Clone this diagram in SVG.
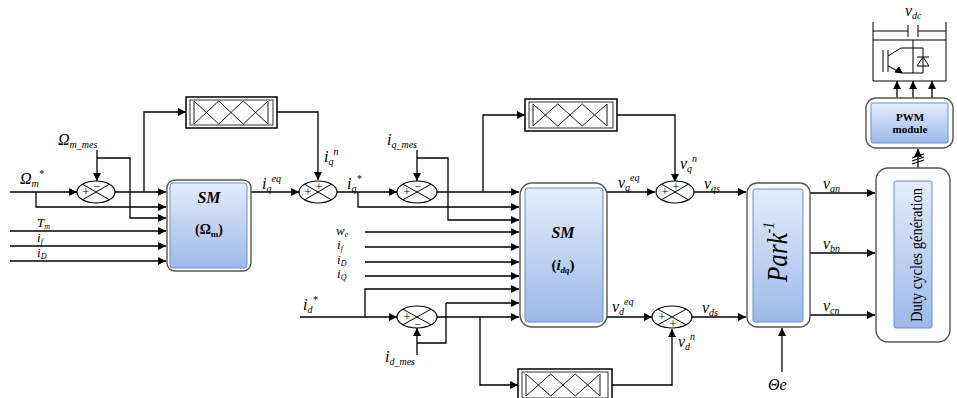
<svg xmlns="http://www.w3.org/2000/svg" width="957" height="398" viewBox="0 0 957 398">
<defs>
<linearGradient id="bl" x1="0" y1="0" x2="0" y2="1">
<stop offset="0" stop-color="#e4edfb"/>
<stop offset="1" stop-color="#9cb9e8"/>
</linearGradient>
<marker id="ah" viewBox="0 0 10 10" refX="10" refY="5" markerWidth="11" markerHeight="8" orient="auto" markerUnits="userSpaceOnUse">
<path d="M0,0 L10,5 L0,10 z" fill="#000"/>
</marker>
</defs>
<style>
.c{fill:none;stroke:#000;stroke-width:1.3;marker-end:url(#ah)}
.w{fill:none;stroke:#000;stroke-width:1.3}
.o{fill:#fff;stroke:#555;stroke-width:1.4}
.i{fill:url(#bl);stroke:#6d8fcb;stroke-width:1}
.fz{fill:#fff;stroke:#000;stroke-width:1.5}
.fi{fill:none;stroke:#000;stroke-width:0.8}
.mf{fill:none;stroke:#000;stroke-width:0.9}
.sum{fill:#fff;stroke:#000;stroke-width:1.2}
.x{stroke:#000;stroke-width:1}
.l{font-family:"Liberation Serif",serif;font-style:italic;font-size:16px;fill:#000}
.k{font-family:"Liberation Serif",serif;font-style:italic;font-size:13px;fill:#000}
.s{font-size:10px}
.t{font-size:8px}
.g{font-family:"Liberation Serif",serif;font-size:12px;fill:#000;text-anchor:middle}
.b{font-family:"Liberation Serif",serif;font-weight:bold;fill:#000;text-anchor:middle}
</style>

<g id="connectors">
<path class="c" d="M10,192 H77"/>
<path class="c" d="M36,192 V207 H166"/>
<path class="c" d="M97,150 V181"/>
<path class="c" d="M97,158 H130 V218 H166"/>
<path class="c" d="M115,192 H166"/>
<path class="c" d="M144,192 V112 H186"/>
<path class="c" d="M10,231 H166"/>
<path class="c" d="M10,246 H166"/>
<path class="c" d="M10,261 H166"/>
<path class="c" d="M251,192 H299"/>
<path class="c" d="M277,112 H318 V180"/>
<path class="c" d="M337,192 H397"/>
<path class="c" d="M358,192 V207 H519"/>
<path class="c" d="M417,150 V181"/>
<path class="c" d="M417,158 H448 V220 H519"/>
<path class="c" d="M437,192 H519"/>
<path class="c" d="M483,192 V115 H525"/>
<path class="c" d="M365,232 H519"/>
<path class="c" d="M365,247 H519"/>
<path class="c" d="M365,262 H519"/>
<path class="c" d="M365,276 H519"/>
<path class="c" d="M300,317 H397"/>
<path class="c" d="M365,317 V289 H519"/>
<path class="c" d="M417,355 V328"/>
<path class="w" d="M417,343 H446 V303"/>
<path class="c" d="M446,303 H519"/>
<path class="c" d="M437,317 H519"/>
<path class="c" d="M480,317 V385 H518"/>
<path class="c" d="M607,192 H655"/>
<path class="c" d="M617,115 H675 V182"/>
<path class="c" d="M607,317 H652"/>
<path class="c" d="M612,385 H672 V329"/>
<path class="c" d="M694,192 H746"/>
<path class="c" d="M692,317 H746"/>
<path class="c" d="M782,372 V328"/>
<path class="c" d="M810,193 H875"/>
<path class="c" d="M810,253 H875"/>
<path class="c" d="M810,315 H875"/>
<path class="c" d="M918,168 V149"/>
<path class="w" d="M912,158 L924,154 M912,161 L924,157 M912,164 L924,160"/>
<path class="c" d="M897,98 V81"/>
<path class="c" d="M913,98 V81"/>
<path class="c" d="M932,98 V81"/>
</g>

<g id="sum1">
<ellipse class="sum" cx="96" cy="192" rx="19" ry="11"/>
<path class="x" d="M82.6,184.2 L109.4,199.8 M82.6,199.8 L109.4,184.2"/>
<text class="g" x="86" y="196">+</text><text class="g" x="97" y="190">−</text>
</g>
<g id="sum2">
<ellipse class="sum" cx="318" cy="192" rx="19" ry="11"/>
<path class="x" d="M304.6,184.2 L331.4,199.8 M304.6,199.8 L331.4,184.2"/>
<text class="g" x="308" y="196">+</text><text class="g" x="319" y="191">+</text>
</g>
<g id="sum3">
<ellipse class="sum" cx="417" cy="192" rx="20" ry="11"/>
<path class="x" d="M402.9,184.2 L431.1,199.8 M402.9,199.8 L431.1,184.2"/>
<text class="g" x="407" y="196">+</text><text class="g" x="418" y="190">−</text>
</g>
<g id="sum4">
<ellipse class="sum" cx="417" cy="317" rx="20" ry="11"/>
<path class="x" d="M402.9,309.2 L431.1,324.8 M402.9,324.8 L431.1,309.2"/>
<text class="g" x="407" y="321">+</text><text class="g" x="418" y="328">−</text>
</g>
<g id="sum5">
<ellipse class="sum" cx="675" cy="192" rx="19" ry="11"/>
<path class="x" d="M661.6,184.2 L688.4,199.8 M661.6,199.8 L688.4,184.2"/>
<text class="g" x="665" y="196">+</text><text class="g" x="676" y="191">+</text>
</g>
<g id="sum6">
<ellipse class="sum" cx="672" cy="317" rx="20" ry="11"/>
<path class="x" d="M657.9,309.2 L686.1,324.8 M657.9,324.8 L686.1,309.2"/>
<text class="g" x="662" y="321">+</text><text class="g" x="673" y="328">+</text>
</g>

<g id="fuzzy1">
<rect class="fz" x="186" y="97" width="91" height="31"/>
<rect class="fi" x="190" y="100" width="83" height="25"/>
<path class="mf" d="M194,101 V124 M268,101 V124 M194,101 L218.7,124 M194,124 L218.7,101 L243.3,124 M218.7,124 L243.3,101 L268,124 M243.3,124 L268,101"/>
</g>
<g id="fuzzy2">
<rect class="fz" x="525" y="99" width="92" height="32"/>
<rect class="fi" x="529" y="102" width="84" height="26"/>
<path class="mf" d="M533,104 V126 M607,104 V126 M533,104 L557.7,126 M533,126 L557.7,104 L582.3,126 M557.7,126 L582.3,104 L607,126 M582.3,126 L607,104"/>
</g>
<g id="fuzzy3">
<rect class="fz" x="518" y="369" width="94" height="32"/>
<rect class="fi" x="522" y="372" width="86" height="26"/>
<path class="mf" d="M526,374 V396 M600,374 V396 M526,374 L550.7,396 M526,396 L550.7,374 L575.3,396 M550.7,396 L575.3,374 L600,396 M575.3,396 L600,374"/>
</g>

<g id="sm_omega">
<rect class="o" x="167" y="180" width="84" height="91" rx="8"/>
<rect class="i" x="170" y="183" width="77" height="85" rx="3"/>
<text class="b" x="209" y="203" font-size="16" font-style="italic">SM</text>
<text class="b" x="209" y="234" font-size="14">(Ω<tspan font-size="9" dy="3">m</tspan><tspan dy="-3">)</tspan></text>
</g>

<g id="sm_idq">
<rect class="o" x="520" y="183" width="87" height="144" rx="12"/>
<rect class="i" x="525" y="188" width="78" height="134" rx="3"/>
<text class="b" x="563" y="238" font-size="16" font-style="italic">SM</text>
<text class="b" x="563" y="270" font-size="15">(<tspan font-style="italic">i</tspan><tspan font-size="9" font-style="italic" dy="3">dq</tspan><tspan dy="-3">)</tspan></text>
</g>

<g id="park">
<rect class="o" x="747" y="183" width="63" height="144" rx="10"/>
<rect class="i" x="753" y="189" width="50" height="133" rx="2"/>
<text transform="translate(787,252) rotate(-90)" text-anchor="middle" font-family="Liberation Serif, serif" font-style="italic" font-size="30" textLength="60" lengthAdjust="spacingAndGlyphs">Park<tspan font-size="16" dy="-13">-1</tspan></text>
</g>

<g id="duty">
<rect class="o" x="876" y="168" width="74" height="174" rx="12"/>
<rect class="i" x="894" y="181" width="38" height="147" rx="2"/>
<text transform="translate(922,255) rotate(-90)" text-anchor="middle" font-family="Liberation Serif, serif" font-size="17" textLength="134" lengthAdjust="spacingAndGlyphs">Duty cycles génération</text>
</g>

<g id="pwm">
<rect class="o" x="866" y="98" width="87" height="50" rx="10"/>
<rect class="i" x="871" y="103" width="77" height="40" rx="2"/>
<text class="b" x="910" y="121" font-size="11">PWM</text>
<text class="b" x="910" y="133" font-size="11">module</text>
</g>

<g id="inverter" fill="none" stroke="#000" stroke-width="1">
<path d="M873,22 V81 H946 V22 M873,40 H946 M873,31 H908 M918,31 H946 M908,25 V37 M918,25 V37"/>
<path d="M883,50 V72 M888,50 V72 M888,56 L901,48 H913 M913,40 V73 M888,66 L902,73 H923 M913,48 H923 V73"/>
<path d="M917,66 L929,66 L923,57 Z M917,57 H929"/>
<path d="M902,73 L895,72 L899,67 Z" fill="#000"/>
</g>

<g id="labels">
<text class="l" x="20" y="184">Ω<tspan class="s" dy="3">m</tspan><tspan class="s" dy="-10">*</tspan></text>
<text class="l" x="58" y="145">Ω<tspan class="s" dy="3">m_mes</tspan></text>
<text class="k" x="37" y="227">T<tspan class="t" dy="2">m</tspan></text>
<text class="k" x="37" y="242">i<tspan class="t" dy="2">f</tspan></text>
<text class="k" x="37" y="257">i<tspan class="t" dy="2">D</tspan></text>
<text class="l" x="262" y="189">i<tspan class="s" dy="3">q</tspan><tspan class="s" dy="-10">eq</tspan></text>
<text class="l" x="324" y="162">i<tspan class="s" dy="3">q</tspan><tspan class="s" dy="-10">n</tspan></text>
<text class="l" x="347" y="189">i<tspan class="s" dy="3">q</tspan><tspan class="s" dy="-10">*</tspan></text>
<text class="l" x="387" y="145">i<tspan class="s" dy="3">q_mes</tspan></text>
<text class="k" x="336" y="235">w<tspan class="t" dy="2">e</tspan></text>
<text class="k" x="337" y="249">i<tspan class="t" dy="2">f</tspan></text>
<text class="k" x="337" y="264">i<tspan class="t" dy="2">D</tspan></text>
<text class="k" x="337" y="278">i<tspan class="t" dy="2">Q</tspan></text>
<text class="l" x="303" y="310">i<tspan class="s" dy="3">d</tspan><tspan class="s" dy="-10">*</tspan></text>
<text class="l" x="385" y="362">i<tspan class="s" dy="3">d_mes</tspan></text>
<text class="l" x="618" y="188">v<tspan class="s" dy="3">q</tspan><tspan class="s" dy="-10">eq</tspan></text>
<text class="l" x="680" y="169">v<tspan class="s" dy="3">q</tspan><tspan class="s" dy="-10">n</tspan></text>
<text class="l" x="704" y="189">v<tspan class="s" dy="3">qs</tspan></text>
<text class="l" x="612" y="312">v<tspan class="s" dy="3">d</tspan><tspan class="s" dy="-10">eq</tspan></text>
<text class="l" x="702" y="313">v<tspan class="s" dy="3">ds</tspan></text>
<text class="l" x="678" y="347">v<tspan class="s" dy="3">d</tspan><tspan class="s" dy="-10">n</tspan></text>
<text class="l" x="768" y="390">Θe</text>
<text class="l" x="823" y="189">v<tspan class="s" dy="3">an</tspan></text>
<text class="l" x="823" y="249">v<tspan class="s" dy="3">bn</tspan></text>
<text class="l" x="823" y="311">v<tspan class="s" dy="3">cn</tspan></text>
<text class="l" x="905" y="16">v<tspan class="s" dy="3">dc</tspan></text>
</g>
</svg>
